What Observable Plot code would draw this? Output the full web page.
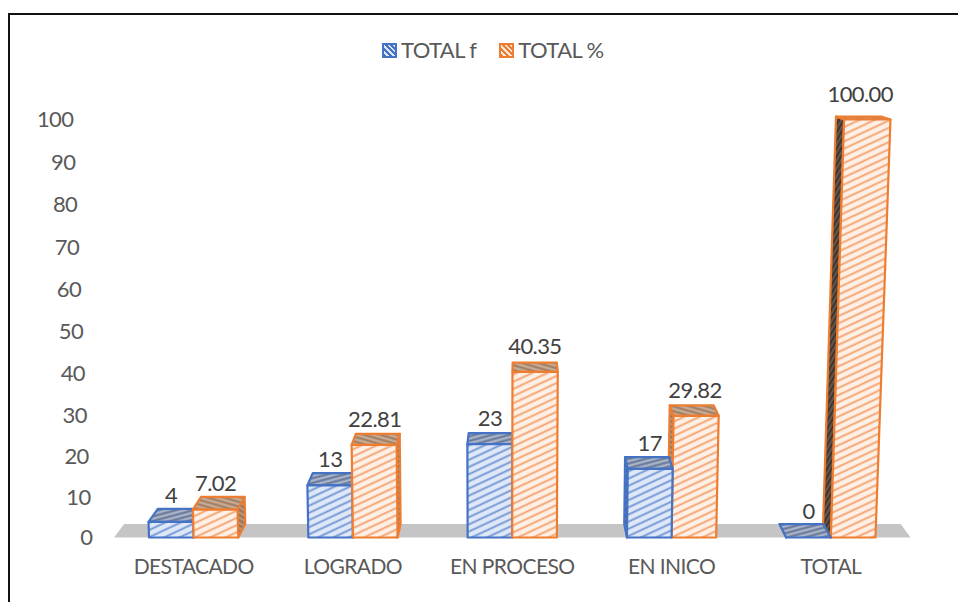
<!DOCTYPE html>
<html>
<head>
<meta charset="utf-8">
<script src="https://cdn.jsdelivr.net/npm/d3@7"></script>
<script src="https://cdn.jsdelivr.net/npm/@observablehq/plot@0.6"></script>
<style>
  html, body { margin: 0; padding: 0; background: #fff; overflow: hidden; width: 958px; height: 602px; }
  body { position: relative; font-family: Lato, sans-serif; }
  #frame { position: absolute; left: 8px; top: 13px; right: 0; bottom: 0; border-left: 2px solid #111; border-top: 2px solid #111; }
  #chart { position: absolute; left: 0; top: 0; }
  #legend { position: absolute; top: 38px; left: 382px; display: flex; align-items: center; font-size: 22px; letter-spacing: -0.6px; color: #595959; line-height: 24px; }
  #legend .sw { width: 11px; height: 11px; border: 2px solid; margin-right: 4px; }
  #legend .it { display: flex; align-items: center; }
  #legend .it + .it { margin-left: 23px; }
</style>
</head>
<body>
<div id="frame"></div>
<div id="chart"></div>
<div id="legend"></div>
<script>
const categories = ["DESTACADO", "LOGRADO", "EN PROCESO", "EN INICO", "TOTAL"];
const seriesNames = ["TOTAL f", "TOTAL %"];
const totalF = [4, 13, 23, 17, 0];
const totalPct = [7.02, 22.81, 40.35, 29.82, 100];
const pctLabels = ["7.02", "22.81", "40.35", "29.82", "100.00"];
const yTicks = [0, 10, 20, 30, 40, 50, 60, 70, 80, 90, 100];

// Layout of the picture
const W = 958, H = 602, mL = 113.5, mR = 48, mT = 119, mB = 65;
const yExp = 1.02;
const yPx = d3.scalePow().exponent(yExp).domain([0, 100]).range([H - mB, mT]);
const frac = v => Math.pow(v / 100, yExp);

// Fake-3D perspective, in slot units along x
const xCentre = 2.42, xVanish = 2.545, tilt = 0.04, axisTilt = 0.047, depth = 0.025;
const tiltX = (x, v, k = tilt) => x + (x - xCentre) * k * frac(v);
function vertex(x, v, d) {
  const fx = tiltX(x, v);
  return {
    x: fx + (xVanish - fx) * depth * d,
    y: yPx.invert(yPx(v) * (1 - depth * d))
  };
}

const barHalf = 0.28;
const paints = {
  f: {edge: "#4472c4", front: "url(#pBlue)", top: "url(#pBlueTop)", side: "url(#pBlueSide)"},
  pct: {edge: "#ed7d31", front: "url(#pOrange)", top: "url(#pOrangeTop)", side: "url(#pOrangeSide)"},
  pctDark: {edge: "#ed7d31", front: "url(#pOrange)", top: "url(#pOrangeTop)", side: "url(#pOrangeDark)"}
};

const faces = [];
function addFace(id, paint, edge, pts) {
  pts.forEach(p => faces.push({id, paint, edge, x: p.x, y: p.y}));
}
function addBar(id, x0, x1, v, p) {
  if (x1 < xVanish) {
    addFace(id + "s", p.side, p.edge, [vertex(x1, 0, 0), vertex(x1, v, 0), vertex(x1, v, 1), vertex(x1, 0, 1)]);
  } else if (x0 > xVanish) {
    addFace(id + "s", p.side, p.edge, [vertex(x0, 0, 0), vertex(x0, v, 0), vertex(x0, v, 1), vertex(x0, 0, 1)]);
  }
  addFace(id + "t", p.top, p.edge, [vertex(x0, v, 0), vertex(x1, v, 0), vertex(x1, v, 1), vertex(x0, v, 1)]);
  if (v > 0) addFace(id + "f", p.front, p.edge, [vertex(x0, 0, 0), vertex(x1, 0, 0), vertex(x1, v, 0), vertex(x0, v, 0)]);
}
categories.forEach((c, i) => {
  const mid = i + 0.5;
  const drawBlue = () => addBar(c + "f", mid - barHalf, mid, totalF[i], paints.f);
  const drawOrange = () => addBar(c + "p", mid, mid + barHalf, totalPct[i], totalPct[i] === 100 ? paints.pctDark : paints.pct);
  if (mid < xVanish) { drawBlue(); drawOrange(); } else { drawOrange(); drawBlue(); }
});

const floor = [vertex(0, 0, 0), vertex(5, 0, 0), vertex(5, 0, 1), vertex(0, 0, 1)];

// Value labels, just above the back of each bar's top
function labelAt(x, v, text) {
  const top = vertex(x, v, 1);
  return {x: tiltX(x, v, tilt / 2), y: yPx.invert(yPx(top.y) - (12 + 0.1 * v)), text};
}
const valueLabels = categories.flatMap((c, i) => [
  labelAt(i + 0.5 - barHalf / 2, totalF[i], String(totalF[i])),
  labelAt(i + 0.5 + barHalf / 2, totalPct[i], pctLabels[i])
]);

function stripes(id, bg, ink, period, sw, angle) {
  return `<pattern id="${id}" patternUnits="userSpaceOnUse" width="12" height="${period}" patternTransform="rotate(${angle})">
    <rect width="12" height="${period}" fill="${bg}"/>
    <line x1="0" x2="12" y1="${period / 2}" y2="${period / 2}" stroke="${ink}" stroke-width="${sw}"/>
  </pattern>`;
}
const patternDefs = () => {
  const defs = document.createElementNS("http://www.w3.org/2000/svg", "defs");
  defs.innerHTML = [
    stripes("pBlue", "#dfe8f7", "#6f93d6", 6.5, 1.8, -25),
    stripes("pBlueTop", "#aab4c6", "#64769a", 4.5, 2, -15),
    stripes("pBlueSide", "#6b84b4", "#3c5a94", 4, 2, -50),
    stripes("pOrange", "#fef0e6", "#f4a06b", 6.5, 1.8, -25),
    stripes("pOrangeTop", "#c4ac98", "#a17a5c", 4.5, 2, 16),
    stripes("pOrangeSide", "#b8977c", "#94704f", 4.5, 2, 30),
    stripes("pOrangeDark", "#665548", "#403630", 4, 2, -60)
  ].join("");
  return defs;
};

const chart = Plot.plot({
  width: W,
  height: H,
  marginLeft: mL,
  marginRight: mR,
  marginTop: mT,
  marginBottom: mB,
  style: {fontFamily: "Lato, sans-serif", background: "transparent", overflow: "visible"},
  x: {type: "linear", domain: [0, 5]},
  y: {type: "pow", exponent: yExp, domain: [0, 100], axis: null},
  color: {type: "identity"},
  marks: [
    patternDefs,
    Plot.line(floor, {x: "x", y: "y", fill: "#c5c5c5", stroke: "none", curve: "linear-closed"}),
    Plot.line(faces, {x: "x", y: "y", z: "id", fill: "paint", stroke: "edge", strokeWidth: 2.2, strokeLinejoin: "round", curve: "linear-closed"}),
    Plot.text(yTicks, {
      x: v => tiltX(-0.135, v, axisTilt),
      y: v => v,
      text: v => String(v),
      textAnchor: "end",
      dy: 0.5,
      fontSize: 22,
      fill: "#595959"
    }),
    Plot.text(valueLabels, {x: "x", y: "y", text: "text", fontSize: 22, fill: "#404040"}),
    Plot.axisX({
      ticks: categories.map((c, i) => i + 0.5),
      tickFormat: d => categories[Math.round(d - 0.5)],
      tickSize: 0,
      tickPadding: 22,
      fontSize: 21,
      color: "#595959",
      label: null
    })
  ]
});
d3.select(chart).selectAll("text").style("letter-spacing", "-0.6px");
document.getElementById("chart").appendChild(chart);

const swatchInk = [["#4472c4", "#dbe5f6"], ["#ed7d31", "#fdeadd"]];
const legend = document.getElementById("legend");
seriesNames.forEach((name, i) => {
  const [ink, bg] = swatchInk[i];
  const it = document.createElement("div");
  it.className = "it";
  it.innerHTML = `<span class="sw" style="border-color:${ink};background:repeating-linear-gradient(45deg,${ink} 0 2px,${bg} 2px 4px)"></span><span>${name}</span>`;
  legend.appendChild(it);
});
</script>
</body>
</html>
